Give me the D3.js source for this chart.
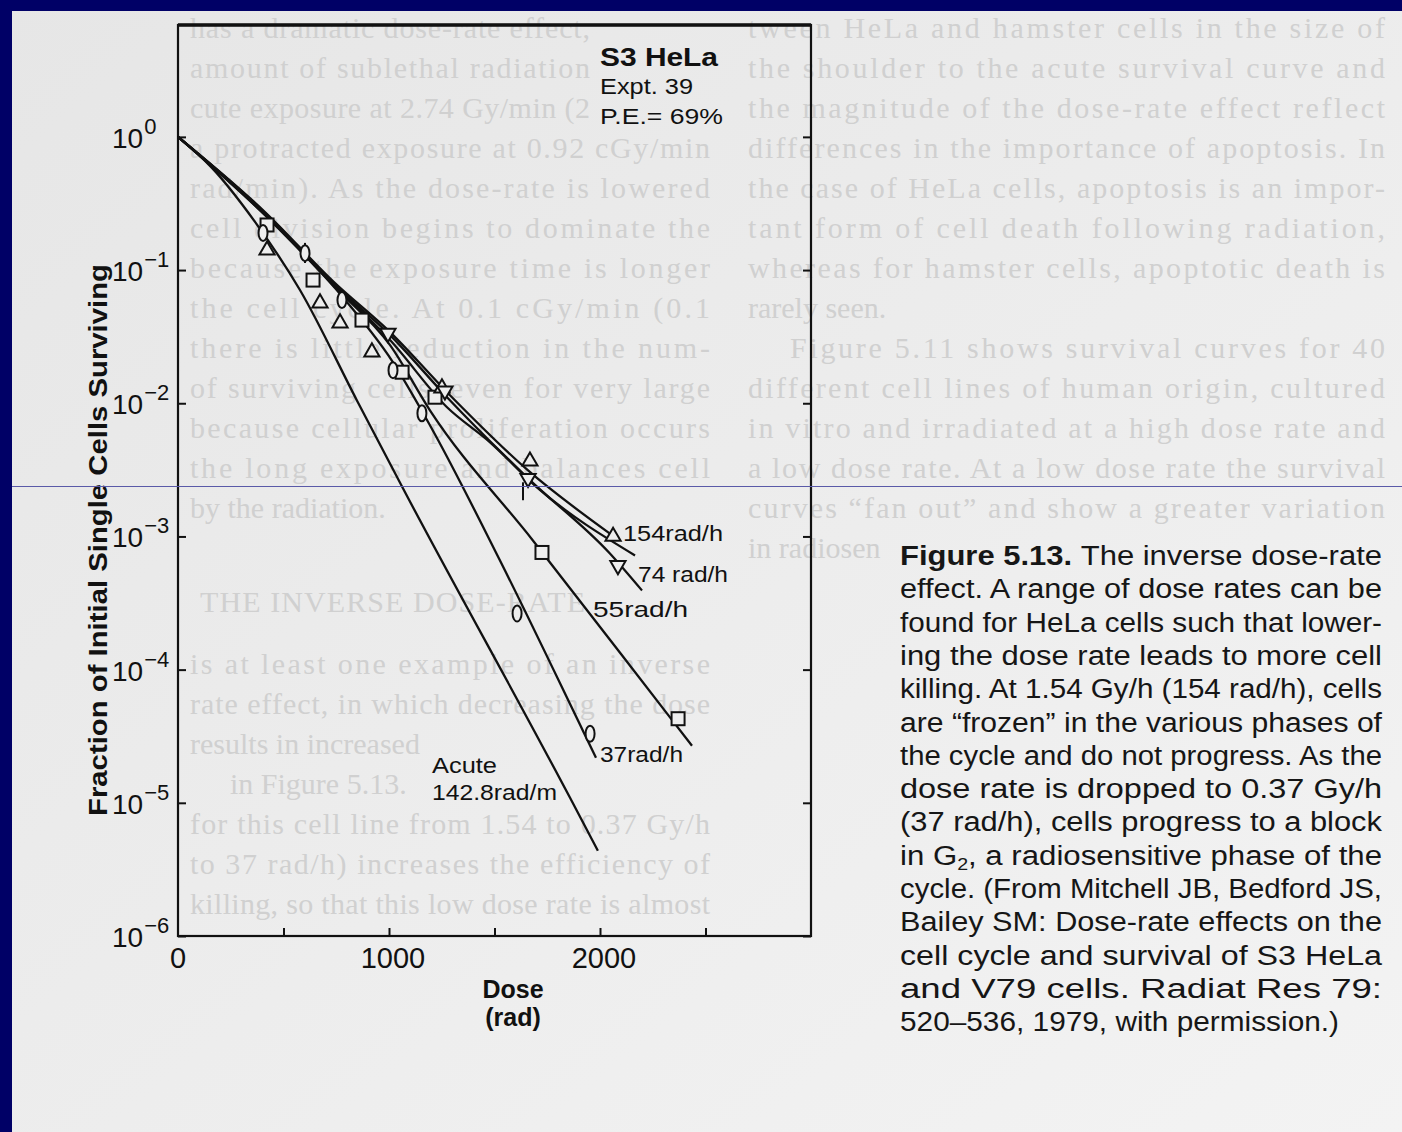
<!DOCTYPE html>
<html>
<head>
<meta charset="utf-8">
<script src="https://cdn.jsdelivr.net/npm/d3@7"></script>
<style>
  body { margin: 0; background: #ececec; }
  svg { display: block; }
</style>
</head>
<body>
<script>
// Survival curves: [dose (rad), surviving fraction]
const acuteLine = [[0, 1], [161, 0.585], [365, 0.23], [578, 0.0708], [848, 0.0105], [1066, 0.0023], [1858, 1.09e-5], [1990, 4.36e-6]];
const rate37Line = [[0, 1], [412, 0.259], [744, 0.0732], [1019, 0.0203], [1194, 6.84e-3], [1526, 6.6e-4], [1919, 3.48e-5], [1981, 2.18e-5]];
const rate55Line = [[0, 1], [412, 0.259], [744, 0.0745], [1005, 0.0273], [1194, 8.85e-3], [1682, 9.33e-4], [2318, 4.67e-5], [2436, 2.68e-5]];
const rate74Line = [[0, 1], [412, 0.268], [744, 0.0771], [1005, 0.0325], [1275, 0.0111], [1659, 2.73e-3], [2047, 7.45e-4], [2199, 3.93e-4]];
const rate154Line = [[0, 1], [412, 0.273], [744, 0.0798], [1005, 0.0342], [1275, 0.0121], [1659, 3.13e-3], [2047, 1.05e-3]];
const rate154Line2 = [[0, 1], [412, 0.268], [744, 0.0771], [1005, 0.0298], [1275, 9.33e-3], [1479, 5.09e-3], [1701, 2.34e-3], [2166, 7.2e-4]];

// Data points
const squares55 = [[422, 0.218], [640, 0.0841], [872, 0.0421], [1062, 0.0171], [1218, 0.0111], [1725, 7.58e-4], [2370, 4.28e-5]];
const circles37 = [[403, 0.19], [602, 0.134], [777, 0.0595], [1019, 0.0177], [1156, 8.41e-3], [1607, 2.64e-4], [1953, 3.3e-5]];
const triUp154 = [[422, 0.141], [673, 0.0565], [768, 0.04], [919, 0.0242], [1251, 0.013], [1668, 3.67e-3], [2062, 1.0e-3]];
const triDown74 = [[995, 0.0336], [1265, 0.0124], [1659, 2.73e-3], [2085, 6.05e-4]];
const errorBars = [[602, 0.16, 0.113], [1635, 2.55e-3, 1.87e-3]];

const decades = [1, 1e-1, 1e-2, 1e-3, 1e-4, 1e-5, 1e-6];
const decadeExp = ["0", "−1", "−2", "−3", "−4", "−5", "−6"];
const doseTicks = [500, 1000, 1500, 2000, 2500];
const doseLabels = [0, 1000, 2000];

const captionLines = [
  "The inverse dose-rate",
  "effect. A range of dose rates can be",
  "found for HeLa cells such that lower-",
  "ing the dose rate leads to more cell",
  "killing. At 1.54 Gy/h (154 rad/h), cells",
  "are “frozen” in the various phases of",
  "the cycle and do not progress. As the",
  "dose rate is dropped to 0.37 Gy/h",
  "(37 rad/h), cells progress to a block",
  "in G|2|, a radiosensitive phase of the",
  "cycle. (From Mitchell JB, Bedford JS,",
  "Bailey SM: Dose-rate effects on the",
  "cell cycle and survival of S3 HeLa",
  "and V79 cells. Radiat Res 79:",
  "520–536, 1979, with permission.)"
];

// Text of the other page showing through the paper
const ghostLeft = [
  "has a dramatic dose-rate effect,",
  "amount of sublethal radiation",
  "cute exposure at 2.74 Gy/min (2",
  "a protracted exposure at 0.92 cGy/min",
  "rad/min). As the dose-rate is lowered",
  "cell division begins to dominate the",
  "because the exposure time is longer",
  "the cell cycle. At 0.1 cGy/min (0.1",
  "there is little reduction in the num-",
  "of surviving cells, even for very large",
  "because cellular proliferation occurs",
  "the long exposure and balances cell",
  "by the radiation."
];
const ghostRight = [
  "tween HeLa and hamster cells in the size of",
  "the shoulder to the acute survival curve and",
  "the magnitude of the dose-rate effect reflect",
  "differences in the importance of apoptosis. In",
  "the case of HeLa cells, apoptosis is an impor-",
  "tant form of cell death following radiation,",
  "whereas for hamster cells, apoptotic death is",
  "rarely seen.",
  "Figure 5.11 shows survival curves for 40",
  "different cell lines of human origin, cultured",
  "in vitro and irradiated at a high dose rate and",
  "a low dose rate. At a low dose rate the survival",
  "curves “fan out” and show a greater variation",
  "in radiosen"
];
const ghostHeading = "THE INVERSE DOSE-RATE";
const ghostLower = [
  "is at least one example of an inverse",
  "rate effect, in which decreasing the dose",
  "results in increased",
  "in Figure 5.13.",
  "for this cell line from 1.54 to 0.37 Gy/h",
  "to 37 rad/h) increases the efficiency of",
  "killing, so that this low dose rate is almost"
];

const W = 1402, H = 1132;
const svg = d3.select("body").append("svg")
    .attr("width", W)
    .attr("height", H);

// Paper and scan border
const grad = svg.append("defs").append("linearGradient")
    .attr("id", "paper").attr("x1", "0").attr("x2", "1").attr("y1", "0").attr("y2", "1");
grad.append("stop").attr("offset", "0").attr("stop-color", "#e6e6e6");
grad.append("stop").attr("offset", "1").attr("stop-color", "#f3f3f3");
svg.append("rect").attr("width", W).attr("height", H).attr("fill", "url(#paper)");

const ghost = svg.append("g")
    .attr("font-family", "'Liberation Serif', serif")
    .attr("font-size", 30)
    .attr("fill", "#d0d0d0");
ghost.selectAll(".gl").data(ghostLeft).join("text")
    .attr("x", 190).attr("y", (d, i) => 38 + i * 40)
    .attr("textLength", (d, i) => i === ghostLeft.length - 1 ? null : (i < 3 ? 400 : 520))
    .attr("lengthAdjust", "spacing")
    .text(d => d);
ghost.selectAll(".gr").data(ghostRight).join("text")
    .attr("x", (d, i) => i === 8 ? 790 : 748).attr("y", (d, i) => 38 + i * 40)
    .attr("textLength", (d, i) => (i === 7 || i === 13) ? null : (i === 8 ? 595 : 637))
    .attr("lengthAdjust", "spacing")
    .text(d => d);
ghost.append("text").attr("x", 200).attr("y", 612)
    .attr("textLength", 385).attr("lengthAdjust", "spacing")
    .text(ghostHeading);
ghost.selectAll(".gb").data(ghostLower).join("text")
    .attr("x", (d, i) => i === 3 ? 230 : 190).attr("y", (d, i) => 674 + i * 40)
    .attr("textLength", (d, i) => (i === 2 || i === 3) ? null : 520)
    .attr("lengthAdjust", "spacing")
    .text(d => d);

svg.append("rect").attr("width", W).attr("height", 11).attr("fill", "#000066");
svg.append("rect").attr("width", 12).attr("height", H).attr("fill", "#000066");

// Scales
const x = d3.scaleLinear().domain([0, 3000]).range([178, 811]);
const y = d3.scaleLog().domain([1e-6, Math.pow(10, 0.84)]).range([936, 25]);

// Frame
svg.append("rect")
    .attr("x", x(0)).attr("y", y.range()[1])
    .attr("width", x(3000) - x(0)).attr("height", y(1e-6) - y.range()[1])
    .attr("fill", "none").attr("stroke", "#111").attr("stroke-width", 2.2);
svg.append("line")
    .attr("x1", x(0)).attr("x2", x(3000)).attr("y1", 25).attr("y2", 25)
    .attr("stroke", "#111").attr("stroke-width", 3.5);

// Inward ticks
const cleanAxis = g => {
  g.select(".domain").remove();
  g.selectAll("line").attr("stroke", "#111").attr("stroke-width", 2);
};
svg.append("g").attr("transform", `translate(${x(0)},0)`)
    .call(d3.axisLeft(y).tickValues(decades).tickSize(-8).tickFormat(""))
    .call(cleanAxis);
svg.append("g").attr("transform", `translate(${x(3000)},0)`)
    .call(d3.axisRight(y).tickValues(decades).tickSize(-8).tickFormat(""))
    .call(cleanAxis);
svg.append("g").attr("transform", `translate(0,${y(1e-6)})`)
    .call(d3.axisBottom(x).tickValues(doseTicks).tickSize(-8).tickFormat(""))
    .call(cleanAxis);

// Tick labels
const font = "'Liberation Sans', Arial, sans-serif";
const yLab = svg.append("g").attr("font-family", font).attr("fill", "#111");
decades.forEach((v, i) => {
  const t = yLab.append("text").attr("x", 112).attr("y", y(v) + 11).attr("font-size", 28);
  t.append("tspan").text("10");
  t.append("tspan").attr("font-size", 22).attr("dy", -14).attr("dx", 1).text(decadeExp[i]);
});
svg.append("g").attr("font-family", font).attr("font-size", 29).attr("fill", "#111")
    .selectAll("text").data(doseLabels).join("text")
    .attr("x", d => x(d) + (d === 0 ? 0 : 4)).attr("y", 968)
    .attr("text-anchor", "middle")
    .text(d => d);

// Axis titles
svg.append("text")
    .attr("transform", "translate(107,540) rotate(-90)")
    .attr("text-anchor", "middle")
    .attr("font-family", font).attr("font-weight", "bold").attr("font-size", 25)
    .attr("textLength", 552).attr("lengthAdjust", "spacingAndGlyphs")
    .attr("fill", "#111")
    .text("Fraction of Initial Single Cells Surviving");
svg.append("text").attr("x", 513).attr("y", 998)
    .attr("text-anchor", "middle").attr("font-family", font).attr("font-weight", "bold")
    .attr("font-size", 25).attr("fill", "#111").text("Dose");
svg.append("text").attr("x", 513).attr("y", 1026)
    .attr("text-anchor", "middle").attr("font-family", font).attr("font-weight", "bold")
    .attr("font-size", 25).attr("fill", "#111").text("(rad)");

// Curves
const line = d3.line()
    .x(d => x(d[0]))
    .y(d => y(d[1]))
    .curve(d3.curveMonotoneX);
const curves = [acuteLine, rate37Line, rate55Line, rate74Line, rate154Line, rate154Line2];
svg.append("g")
    .selectAll("path").data(curves).join("path")
    .attr("d", line)
    .attr("fill", "none")
    .attr("stroke", "#111")
    .attr("stroke-width", 2.3);

// Error bars
svg.append("g").selectAll("line").data(errorBars).join("line")
    .attr("x1", d => x(d[0])).attr("x2", d => x(d[0]))
    .attr("y1", d => y(d[1])).attr("y2", d => y(d[2]))
    .attr("stroke", "#111").attr("stroke-width", 2);

// Markers
const paper = "#eeeeee";
const marks = svg.append("g").attr("fill", paper).attr("stroke", "#111").attr("stroke-width", 2);
marks.selectAll(".sq").data(squares55).join("rect")
    .attr("x", d => x(d[0]) - 6.5).attr("y", d => y(d[1]) - 6.5)
    .attr("width", 13).attr("height", 13);
marks.selectAll(".ci").data(circles37).join("ellipse")
    .attr("cx", d => x(d[0])).attr("cy", d => y(d[1]))
    .attr("rx", 4.5).attr("ry", 8);
const tri = d3.symbol().type(d3.symbolTriangle).size(100);
marks.selectAll(".tu").data(triUp154).join("path")
    .attr("transform", d => `translate(${x(d[0])},${y(d[1])})`)
    .attr("d", tri);
marks.selectAll(".td").data(triDown74).join("path")
    .attr("transform", d => `translate(${x(d[0])},${y(d[1])}) rotate(180)`)
    .attr("d", tri);

// Curve labels, stretched to the widths in the scan
const lab = svg.append("g").attr("font-family", font).attr("font-size", 22).attr("fill", "#111");
const addLabel = (g, px, py, w, s) => g.append("text").attr("x", px).attr("y", py)
    .attr("textLength", w).attr("lengthAdjust", "spacingAndGlyphs").text(s);
addLabel(lab, 623, 541, 100, "154rad/h");
addLabel(lab, 638, 582, 90, "74 rad/h");
addLabel(lab, 593, 617, 95, "55rad/h");
addLabel(lab, 600, 762, 83, "37rad/h");
addLabel(lab, 432, 773, 65, "Acute");
addLabel(lab, 432, 800, 125, "142.8rad/m");

// Experiment note
const note = svg.append("g").attr("font-family", font).attr("fill", "#111");
addLabel(note, 600, 66, 118, "S3 HeLa").attr("font-size", 26).attr("font-weight", "bold");
addLabel(note, 600, 94, 93, "Expt. 39").attr("font-size", 22);
addLabel(note, 600, 124, 123, "P.E.= 69%").attr("font-size", 22);

// Scan line artefact
svg.append("line").attr("x1", 12).attr("x2", W).attr("y1", 486.5).attr("y2", 486.5)
    .attr("stroke", "#5a5aa8").attr("stroke-width", 1);

// Caption, justified like the printed block
const cap = svg.append("g").attr("font-family", font).attr("font-size", 27).attr("fill", "#161616");
captionLines.forEach((s, i) => {
  const t = cap.append("text").attr("x", 900).attr("y", 565 + i * 33.3)
      .attr("textLength", i < captionLines.length - 1 ? 482 : 439)
      .attr("lengthAdjust", "spacingAndGlyphs");
  if (i === 0) t.append("tspan").attr("font-weight", "bold").text("Figure 5.13. ");
  s.split("|").forEach((part, k) => {
    if (k === 1) t.append("tspan").attr("font-size", 17).attr("dy", 5).text(part);
    else if (k === 2) t.append("tspan").attr("dy", -5).text(part);
    else t.append("tspan").text(part);
  });
});
</script>
</body>
</html>
